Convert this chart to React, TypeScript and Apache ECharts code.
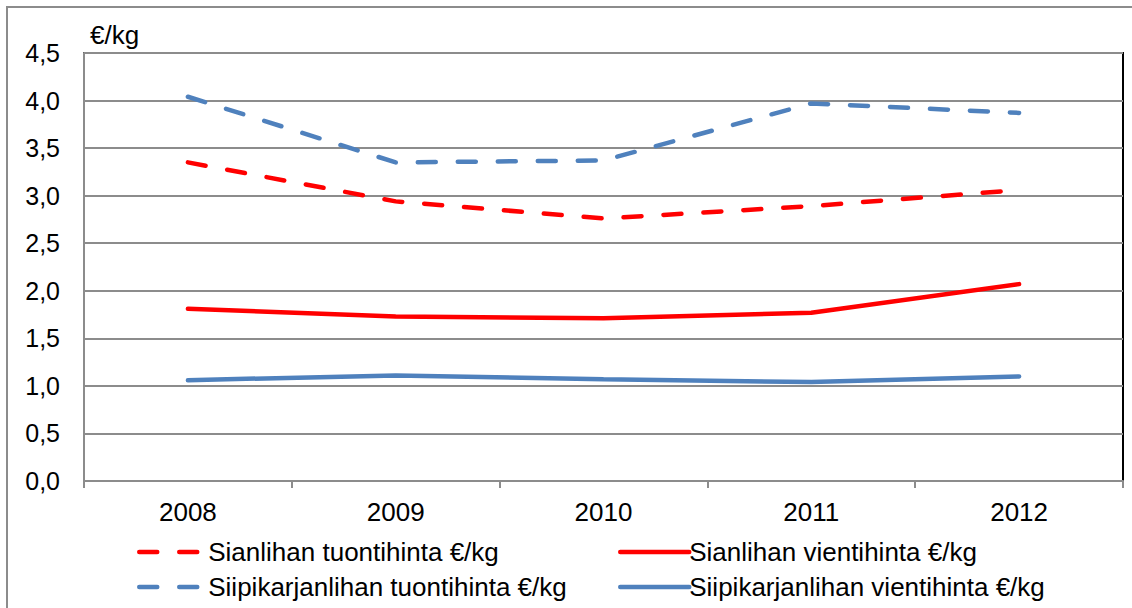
import React, { useEffect, useRef } from "react";
import * as echarts from "echarts";

const years = ["2008", "2009", "2010", "2011", "2012"];
const sianTuonti = [3.35, 2.94, 2.76, 2.89, 3.06];
const siipiTuonti = [4.04, 3.35, 3.37, 3.97, 3.87];
const sianVienti = [1.81, 1.73, 1.71, 1.77, 2.07];
const siipiVienti = [1.06, 1.11, 1.07, 1.04, 1.10];

const RED = "#FF0000";
const BLUE = "#4F81BD";
const GRAY = "#8C8C8C";
const FONT = "Liberation Sans, Arial, sans-serif";

export default function App() {
  const ref = useRef<HTMLDivElement>(null);
  useEffect(() => {
    if (!ref.current) return;
    const chart = echarts.init(ref.current, null, { renderer: "svg" });
    const dashed = (name: string, data: number[], color: string) => ({
      name,
      type: "line",
      data,
      symbol: "none",
      showSymbol: false,
      lineStyle: { color, width: 4.5, type: [18, 22], cap: "round" },
      itemStyle: { color },
    });
    const solid = (name: string, data: number[], color: string) => ({
      name,
      type: "line",
      data,
      symbol: "none",
      showSymbol: false,
      lineStyle: { color, width: 4.5, type: "solid", cap: "round" },
      itemStyle: { color },
    });
    const legendCommon = {
      orient: "vertical",
      top: 534,
      itemWidth: 69,
      itemHeight: 14,
      itemGap: 9,
      itemStyle: { opacity: 0 },
      lineStyle: { width: 4.5, cap: "round" },
      textStyle: { fontFamily: FONT, fontSize: 26, color: "#000", padding: [0, 0, 0, -5] },
    };
    chart.setOption({
      animation: false,
      backgroundColor: "#fff",
      textStyle: { fontFamily: FONT },
      graphic: [
        {
          type: "rect",
          shape: { x: 7, y: 7, width: 1200, height: 700 },
          style: { fill: "none", stroke: GRAY, lineWidth: 2 },
          silent: true,
        },
      ],
      grid: {
        left: 84,
        top: 53,
        right: 9,
        bottom: 127,
        show: true,
        borderColor: "#000",
        borderWidth: 2,
        containLabel: false,
      },
      legend: [
        { ...legendCommon, left: 132, data: ["Sianlihan tuontihinta €/kg", "Siipikarjanlihan tuontihinta €/kg"] },
        { ...legendCommon, left: 613, data: ["Sianlihan vientihinta €/kg", "Siipikarjanlihan vientihinta €/kg"] },
      ],
      xAxis: {
        type: "category",
        data: years,
        boundaryGap: true,
        axisLine: { show: true, lineStyle: { color: GRAY, width: 2 } },
        axisTick: { show: true, length: 7, alignWithLabel: false, lineStyle: { color: GRAY, width: 2 } },
        axisLabel: { fontFamily: FONT, fontSize: 26, color: "#000", margin: 18 },
        splitLine: { show: false },
      },
      yAxis: {
        type: "value",
        min: 0,
        max: 4.5,
        interval: 0.5,
        name: "€/kg",
        nameLocation: "end",
        nameGap: 18,
        nameTextStyle: {
          fontFamily: FONT,
          fontSize: 26,
          color: "#000",
          align: "left",
          verticalAlign: "middle",
          padding: [0, 0, 0, 6],
        },
        axisLine: { show: true, lineStyle: { color: GRAY, width: 2 } },
        axisTick: { show: false },
        axisLabel: {
          fontFamily: FONT,
          fontSize: 25,
          color: "#000",
          margin: 24,
          formatter: (v: number) => v.toFixed(1).replace(".", ","),
        },
        splitLine: { show: true, lineStyle: { color: GRAY, width: 2 } },
      },
      series: [
        dashed("Sianlihan tuontihinta €/kg", sianTuonti, RED),
        solid("Sianlihan vientihinta €/kg", sianVienti, RED),
        dashed("Siipikarjanlihan tuontihinta €/kg", siipiTuonti, BLUE),
        solid("Siipikarjanlihan vientihinta €/kg", siipiVienti, BLUE),
      ],
    });
    return () => chart.dispose();
  }, []);
  return (
    <div
      ref={ref}
      style={{ position: "absolute", left: 0, top: 0, width: 1132, height: 608 }}
    />
  );
}
